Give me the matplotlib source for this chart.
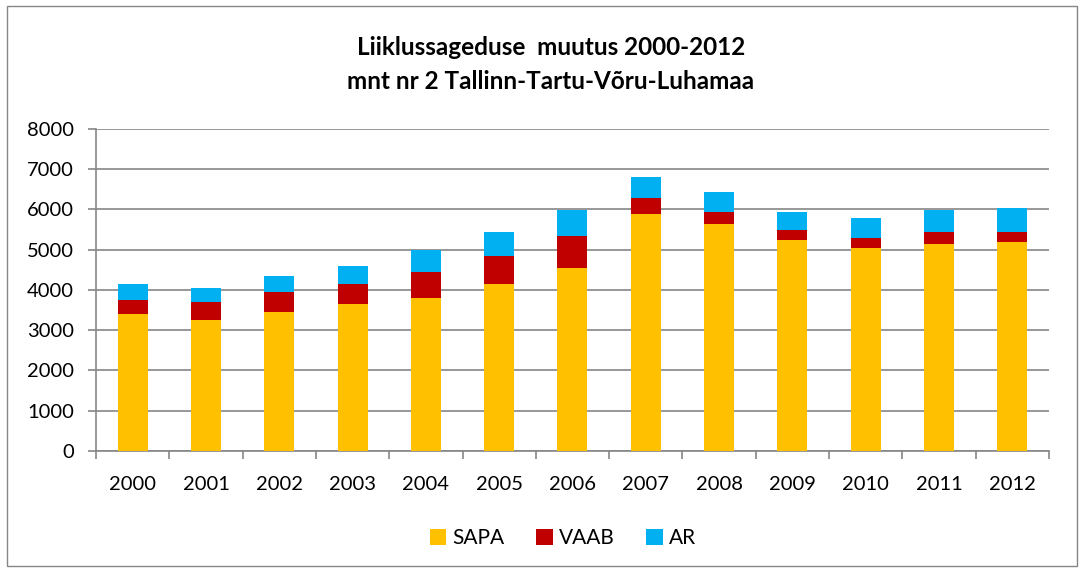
import matplotlib
matplotlib.use("Agg")
import matplotlib.pyplot as plt
import numpy as np
from matplotlib.patches import Rectangle

plt.rcParams["font.family"] = ["Lato", "DejaVu Sans"]

years = ["2000", "2001", "2002", "2003", "2004", "2005", "2006",
         "2007", "2008", "2009", "2010", "2011", "2012"]
sapa = [3410, 3250, 3450, 3650, 3800, 4150, 4550, 5890, 5640, 5240, 5040, 5140, 5190]
vaab = [340, 455, 500, 500, 645, 695, 790, 405, 305, 260, 260, 305, 255]
ar = [400, 340, 400, 450, 555, 595, 655, 500, 490, 440, 490, 550, 590]

series_names = ["SAPA", "VAAB", "AR"]
colors = ["#FFC000", "#C00000", "#00B0F0"]
grid_color = "#868686"

fig = plt.figure(figsize=(10.84, 5.68), dpi=100)
ax = fig.add_axes([0.0886, 0.206, 0.879, 0.567])

x = np.arange(len(years))
bottom = np.zeros(len(years))
for name, vals, c in zip(series_names, [sapa, vaab, ar], colors):
    ax.bar(x, vals, width=0.41, bottom=bottom, color=c, label=name, zorder=3)
    bottom += np.array(vals)

ax.set_ylim(0, 8000)
ax.set_yticks(range(0, 8001, 1000))
ax.set_xlim(-0.5, len(years) - 0.5)
ax.set_xticks(np.arange(-0.5, len(years), 1.0))
ax.set_xticklabels([])
ax.set_xticks(x, minor=True)
ax.set_xticklabels(years, minor=True)
ax.tick_params(axis="x", which="minor", length=0, pad=18, labelsize=14.5)
ax.tick_params(axis="x", which="major", length=6, color=grid_color, width=1.2)
ax.tick_params(axis="y", length=6, color=grid_color, width=1.2, labelsize=14.5, pad=10)

ax.grid(True, axis="y", color=grid_color, linewidth=1.2, zorder=0)
for side in ["top", "right"]:
    ax.spines[side].set_visible(False)
for side in ["left", "bottom"]:
    ax.spines[side].set_color(grid_color)
    ax.spines[side].set_linewidth(1.2)

fig.text(0.508, 0.916, "Liiklussageduse  muutus 2000-2012", ha="center", va="center",
         fontsize=17.5, fontweight="bold")
fig.text(0.508, 0.857, "mnt nr 2 Tallinn-Tartu-Võru-Luhamaa", ha="center", va="center",
         fontsize=17.5, fontweight="bold")

ax.legend(loc="center", bbox_to_anchor=(0.49, -0.27), ncol=3, frameon=False,
          fontsize=15, handlelength=0.8, handleheight=0.8, handletextpad=0.3,
          columnspacing=1.5)

fig.patches.append(Rectangle((0.006, 0.004), 0.988, 0.986, transform=fig.transFigure,
                             fill=False, edgecolor=grid_color, linewidth=1))

fig.savefig("out.png", dpi=100)
